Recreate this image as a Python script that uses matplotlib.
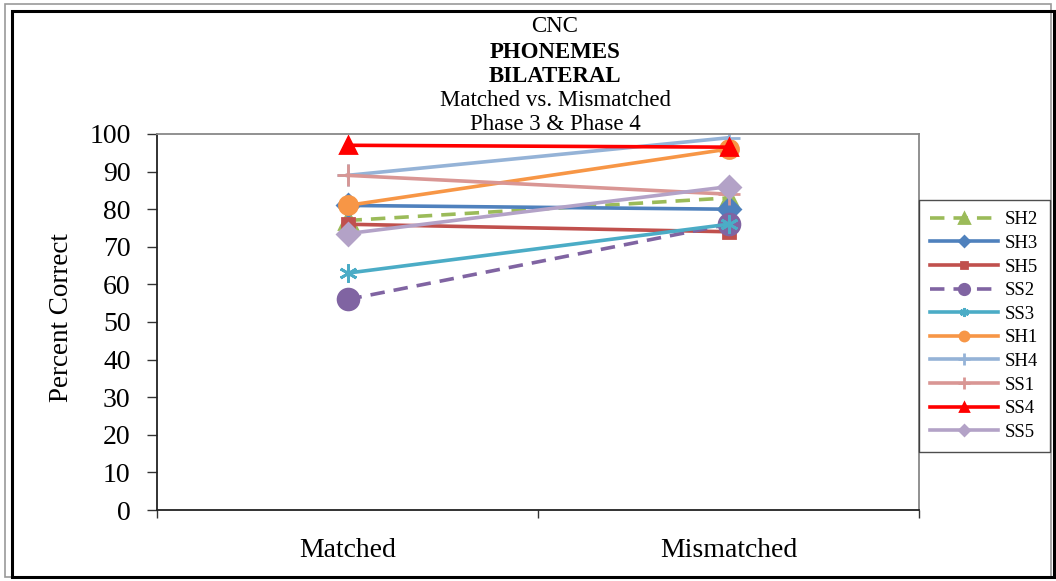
import matplotlib
matplotlib.use("Agg")
import matplotlib.pyplot as plt
from matplotlib.patches import Rectangle

plt.rcParams['font.family'] = ['Liberation Serif', 'DejaVu Serif']

categories = ["Matched", "Mismatched"]
series_names = ["SH2", "SH3", "SH5", "SS2", "SS3", "SH1", "SH4", "SS1", "SS4", "SS5"]
SH2 = [77, 83]
SH3 = [81, 80]
SH5 = [76, 74]
SS2 = [56, 76]
SS3 = [63, 76]
SH1 = [81, 96]
SH4 = [89, 99]
SS1 = [89, 84]
SS4 = [97, 96.5]
SS5 = [73.5, 86]
values = [SH2, SH3, SH5, SS2, SS3, SH1, SH4, SS1, SS4, SS5]
yticks = list(range(0, 101, 10))
title_lines = ["CNC", "PHONEMES", "BILATERAL", "Matched vs. Mismatched", "Phase 3 & Phase 4"]

styles = {
    "SH2": dict(color="#9BBB59", ls=(0, (4, 2.5)), marker="^", ms=13),
    "SH3": dict(color="#4F81BD", ls="-", marker="D", ms=11),
    "SH5": dict(color="#C0504D", ls="-", marker="s", ms=9),
    "SS2": dict(color="#8064A2", ls=(0, (4, 2.5)), marker="o", ms=15),
    "SS3": dict(color="#4BACC6", ls="-", marker=(6, 2, 0), ms=13),
    "SH1": dict(color="#F79646", ls="-", marker="o", ms=13),
    "SH4": dict(color="#95B3D7", ls="-", marker="+", ms=16),
    "SS1": dict(color="#D99694", ls="-", marker="+", ms=16),
    "SS4": dict(color="#FF0000", ls="-", marker="^", ms=11),
    "SS5": dict(color="#B3A2C7", ls="-", marker="D", ms=11),
}

W, H = 1056, 581
fig = plt.figure(figsize=(W / 100, H / 100), dpi=100)
ax = fig.add_axes([157 / W, 1 - 510 / H, (919 - 157) / W, (510 - 134) / H])

xs = [0.5, 1.5]
for name, vals in zip(series_names, values):
    s = styles[name]
    ax.plot(xs, vals, color=s["color"], linestyle=s["ls"], linewidth=2.6,
            marker=s["marker"], markersize=s["ms"], markerfacecolor=s["color"],
            markeredgecolor=s["color"], markeredgewidth=2, label=name)

ax.set_xlim(0, 2)
ax.set_ylim(0, 100)
ax.set_yticks(yticks)
ax.set_yticklabels([str(v) for v in yticks])
ax.set_xticks([0, 1, 2])
ax.set_xticklabels(["", "", ""])
ax.set_xticks(xs, minor=True)
ax.set_xticklabels(categories, minor=True)
ax.tick_params(axis="x", which="minor", length=0, pad=20, labelsize=20)
ax.tick_params(axis="x", which="major", length=6, width=1, direction="out", color="#333333")
ax.tick_params(axis="y", length=7, width=1, direction="out", pad=12, labelsize=20, color="#333333")

for side in ["left", "bottom"]:
    ax.spines[side].set_color("#222222")
    ax.spines[side].set_linewidth(1.3)
for side in ["top", "right"]:
    ax.spines[side].set_color("#888888")
    ax.spines[side].set_linewidth(1.3)

fig.text(61 / W, 1 - 318 / H, "Percent Correct", rotation=90, ha="center", va="center", fontsize=19.5)

title_y = [27, 52, 76, 101, 125]
for txt, yy in zip(title_lines, title_y):
    bold = txt in ("PHONEMES", "BILATERAL")
    fig.text(555 / W, 1 - yy / H, txt, ha="center", va="center", fontsize=16.5,
             fontweight="bold" if bold else "normal")

leg = fig.legend(loc="upper left", bbox_to_anchor=(919 / W, 1 - 200 / H),
                 fontsize=13.5, frameon=True, fancybox=False, markerscale=0.5,
                 handlelength=3.6, labelspacing=0.345, borderpad=0.6, handletextpad=0.4,
                 borderaxespad=0)
leg.get_frame().set_edgecolor("#222222")
leg.get_frame().set_linewidth(1.0)

# outer frame
fig.patches.append(Rectangle((5 / W, 4 / H), (W - 10) / W, (H - 8) / H, transform=fig.transFigure,
                             fill=False, edgecolor="#999999", linewidth=1.2))
fig.patches.append(Rectangle((12 / W, 4 / H), (W - 14) / W, (H - 15) / H, transform=fig.transFigure,
                             fill=False, edgecolor="#000000", linewidth=2.2))

fig.savefig("out.png", dpi=100)
